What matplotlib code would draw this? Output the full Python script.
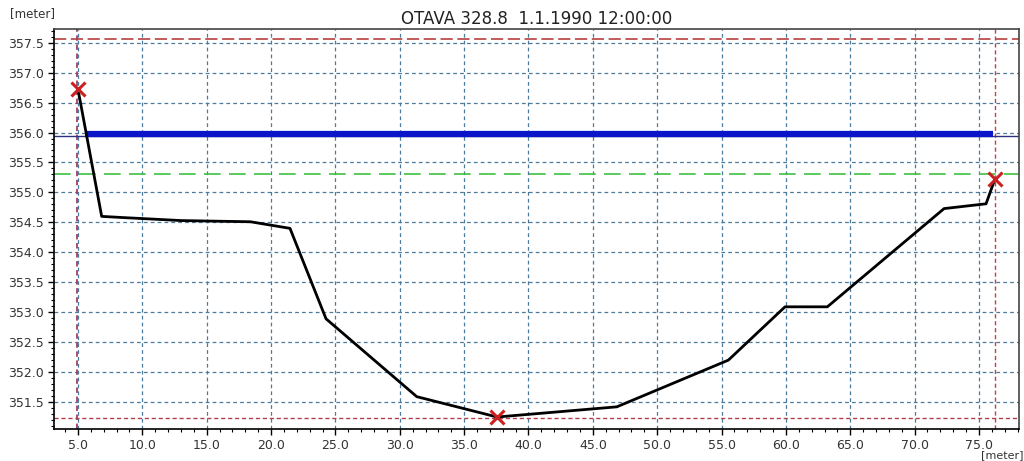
import matplotlib
matplotlib.use("Agg")
import matplotlib.pyplot as plt
from matplotlib.ticker import MultipleLocator, FormatStrFormatter

# cross-section profile (station [m], elevation [m])
station = [5.0, 6.84, 8.5, 13.0, 18.4, 21.47, 24.27, 31.32, 37.56,
           46.86, 55.53, 59.93, 63.22, 72.29, 75.55, 76.25]
elev = [356.72, 354.60, 354.58, 354.53, 354.51, 354.40, 352.89, 351.59,
        351.25, 351.42, 352.20, 353.09, 353.09, 354.73, 354.81, 355.23]

# marked points: left bank, thalweg, right bank
mark_x = [5.0, 37.56, 76.25]
mark_y = [356.72, 351.25, 355.23]

water_level = 355.97
water_x = [5.55, 76.1]
ref_level = 355.95
green_level = 355.30

# bounding box lines
box_xmin, box_xmax = 4.95, 76.23
box_ymin, box_ymax = 351.24, 357.56

title = "OTAVA 328.8  1.1.1990 12:00:00"

fig = plt.figure(figsize=(10.24, 4.61), dpi=100)
ax = fig.add_axes([54 / 1024, 1 - 429 / 461, (1019 - 54) / 1024, (429 - 29.5) / 461])

ax.set_xlim(3.135, 78.11)
ax.set_ylim(351.05, 357.72)

ax.xaxis.set_major_locator(MultipleLocator(5))
ax.xaxis.set_minor_locator(MultipleLocator(1))
ax.yaxis.set_major_locator(MultipleLocator(0.5))
ax.yaxis.set_minor_locator(MultipleLocator(0.1))
ax.xaxis.set_major_formatter(FormatStrFormatter("%.1f"))
ax.yaxis.set_major_formatter(FormatStrFormatter("%.1f"))
ax.tick_params(which="major", length=4, width=1, labelsize=9, colors="black",
               labelcolor="#333333", pad=3)
ax.tick_params(which="minor", length=2, width=0.8)

ax.grid(True, which="major", color="#4a7a9c", linestyle=(0, (3, 2.5)), linewidth=0.9)
ax.set_axisbelow(True)

for s in ["left", "bottom"]:
    ax.spines[s].set_color("black")
    ax.spines[s].set_linewidth(1.2)
for s in ["top", "right"]:
    ax.spines[s].set_color("#444444")
    ax.spines[s].set_linewidth(1.2)

# bounds
ax.axhline(box_ymax, color="#b03030", linestyle=(0, (8, 3)), linewidth=1.1)
ax.axhline(box_ymin, color="#b04050", linestyle=(0, (3, 2)), linewidth=1.0)
ax.axvline(box_xmin, color="#a04060", linestyle=(0, (3, 2)), linewidth=1.3)
ax.axvline(box_xmax, color="#c04050", linestyle=(0, (3, 2)), linewidth=1.0)

# levels
ax.axhline(ref_level, color="#303080", linewidth=1.0)
ax.plot(water_x, [water_level, water_level], color="#0a14c8", linewidth=4.5,
        solid_capstyle="butt")
ax.axhline(green_level, color="#40c040", linestyle=(0, (10, 5)), linewidth=1.2)

# profile
ax.plot(station, elev, color="black", linewidth=2, zorder=4)
ax.plot(mark_x, mark_y, linestyle="none", marker="x", color="#cc2020",
        markersize=10, markeredgewidth=2.2, zorder=5)

ax.set_title(title, fontsize=12, color="#222222", pad=4)
fig.text(10 / 1024, 1 - 17 / 461, "[meter]", fontsize=8.5, color="#333333",
         va="baseline", ha="left")
fig.text(1023 / 1024, 0.5 / 461, "[meter]", fontsize=8, color="#333333",
         va="bottom", ha="right")

fig.savefig("out.png", dpi=100)
